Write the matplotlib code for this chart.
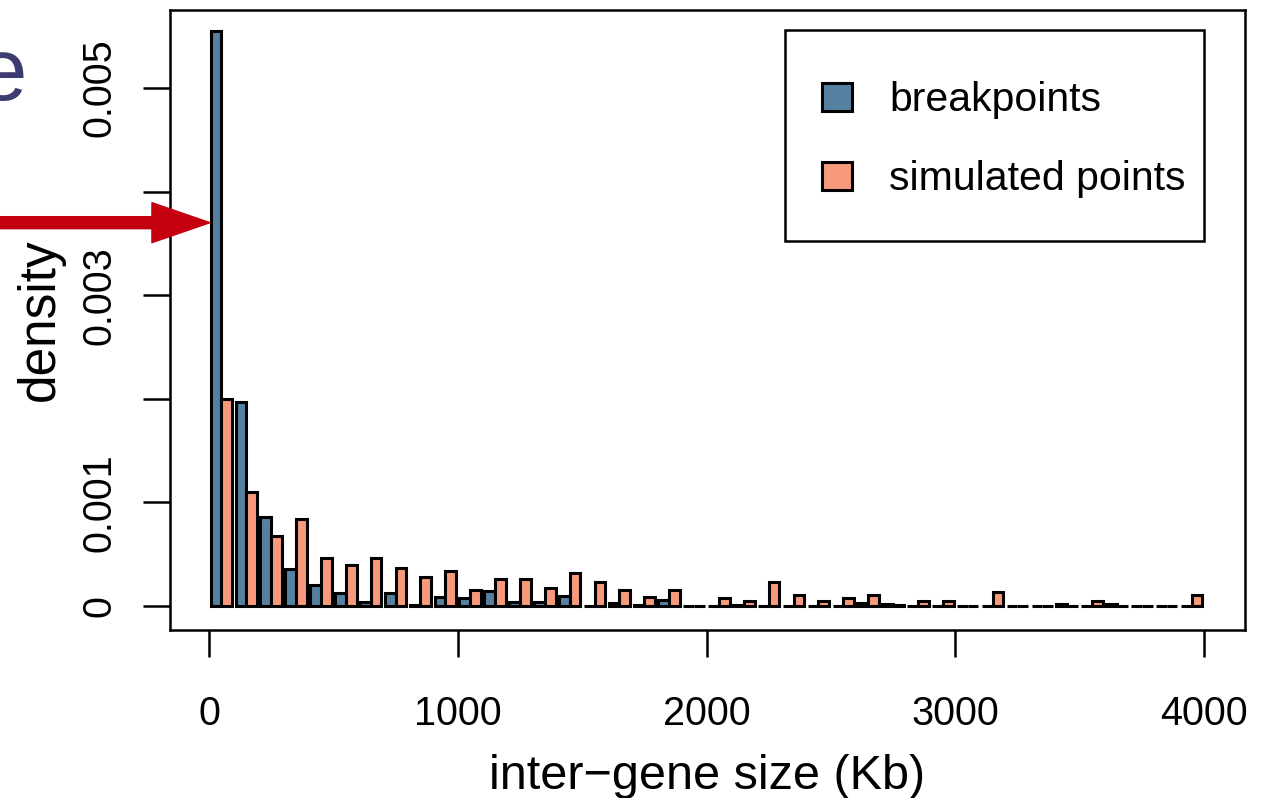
import matplotlib
matplotlib.use("Agg")
import matplotlib.pyplot as plt
from matplotlib.patches import Rectangle
import numpy as np

plt.rcParams['font.family'] = ['Liberation Sans', 'DejaVu Sans']

# bins of inter-gene size (Kb), left edges, width 100
bin_lefts = [0, 100, 200, 300, 400, 500, 600, 700, 800, 900,
             1000, 1100, 1200, 1300, 1400, 1500, 1600, 1700, 1800, 1900,
             2000, 2100, 2200, 2300, 2400, 2500, 2600, 2700, 2800, 2900,
             3000, 3100, 3200, 3300, 3400, 3500, 3600, 3700, 3800, 3900]

breakpoints = [0.00555, 0.00197, 0.00086, 0.000354, 0.000203, 0.000122, 0.00004, 0.000122, 0.000012, 0.000084,
               0.00008, 0.000145, 0.00004, 0.00004, 0.0000965, 0.0, 0.000026, 0.000012, 0.000058, 0.0,
               0.0, 0.00001, 0.0, 0.0, 0.0, 0.0, 0.000026, 0.000018, 0.0, 0.0,
               0.0, 0.0, 0.0, 0.0, 0.000018, 0.0, 0.000018, 0.0, 0.0, 0.0]

simulated = [0.001995, 0.0011, 0.00068, 0.00084, 0.000466, 0.000393, 0.00046, 0.000364, 0.000283, 0.000335,
             0.000154, 0.000258, 0.000258, 0.000172, 0.000315, 0.000235, 0.000154, 0.00009, 0.000154, 0.0,
             0.000074, 0.000048, 0.000235, 0.000106, 0.000048, 0.000074, 0.000106, 0.00001, 0.00005, 0.00005,
             0.0, 0.000132, 0.0, 0.0, 0.0, 0.00005, 0.0, 0.0, 0.0, 0.000106]

x_ticks = [0, 1000, 2000, 3000, 4000]
y_ticks = [0, 0.001, 0.002, 0.003, 0.004, 0.005]
y_tick_labels = ['0', '0.001', '', '0.003', '', '0.005']
series_names = ['breakpoints', 'simulated points']

blue = '#55809f'
orange = '#f79a7c'

W, H = 1270, 798
fig = plt.figure(figsize=(W / 100, H / 100), dpi=100)
ax = fig.add_axes([170 / W, 1 - 630 / H, (1245 - 170) / W, (630 - 10) / H])

lefts = np.array(bin_lefts, dtype=float)
ax.bar(lefts + 7, breakpoints, width=43, align='edge', color=blue,
       edgecolor='black', linewidth=2.2, label=series_names[0])
ax.bar(lefts + 50, simulated, width=43, align='edge', color=orange,
       edgecolor='black', linewidth=2.2, label=series_names[1])

ax.set_xlim(-156.8, 4164.8)
ax.set_ylim(-0.000232, 0.005753)

ax.set_xticks(x_ticks)
ax.set_xticklabels([str(v) for v in x_ticks])
ax.set_yticks(y_ticks)
ax.set_yticklabels(y_tick_labels, rotation=90, va='center')

for s in ax.spines.values():
    s.set_linewidth(1.8)
ax.tick_params(axis='both', length=19.4, width=1.8, labelsize=28.5)
ax.tick_params(axis='x', pad=27.5)
ax.tick_params(axis='y', pad=18)

ax.set_xlabel('inter\u2212gene size (Kb)', fontsize=35)
ax.xaxis.set_label_coords(0.5, -0.2)
ax.set_ylabel('density', fontsize=37)
ax.yaxis.set_label_coords(-0.098, 0.5)

# legend box (frame) and entries
ax.add_patch(Rectangle((0.5721, 0.6274), 0.3898, 0.3403, transform=ax.transAxes,
                       facecolor='white', edgecolor='black', linewidth=1.8,
                       zorder=4, clip_on=False))
leg = ax.legend(loc='upper left', bbox_to_anchor=(0.6065, 0.8853),
                borderaxespad=0, borderpad=0, fontsize=29.5, frameon=False,
                handlelength=0.74, handleheight=0.66, handletextpad=0.9,
                labelspacing=1.01)
leg.set_zorder(5)

# red arrow pointing at the first bar
ax.annotate('', xy=(4, 0.0037), xycoords='data',
            xytext=(0.0, 0.0037), textcoords=('figure fraction', 'data'),
            annotation_clip=False,
            arrowprops=dict(arrowstyle='simple,head_length=4.18,head_width=2.88,tail_width=0.864',
                            color='#c4000f', shrinkA=0, shrinkB=0, mutation_scale=10))

# cropped panel letter
fig.text(27 / W, 1 - 100 / H, 'e', color='#3c3c70', fontsize=64,
         ha='right', va='baseline')

fig.savefig('out.png', dpi=100)
